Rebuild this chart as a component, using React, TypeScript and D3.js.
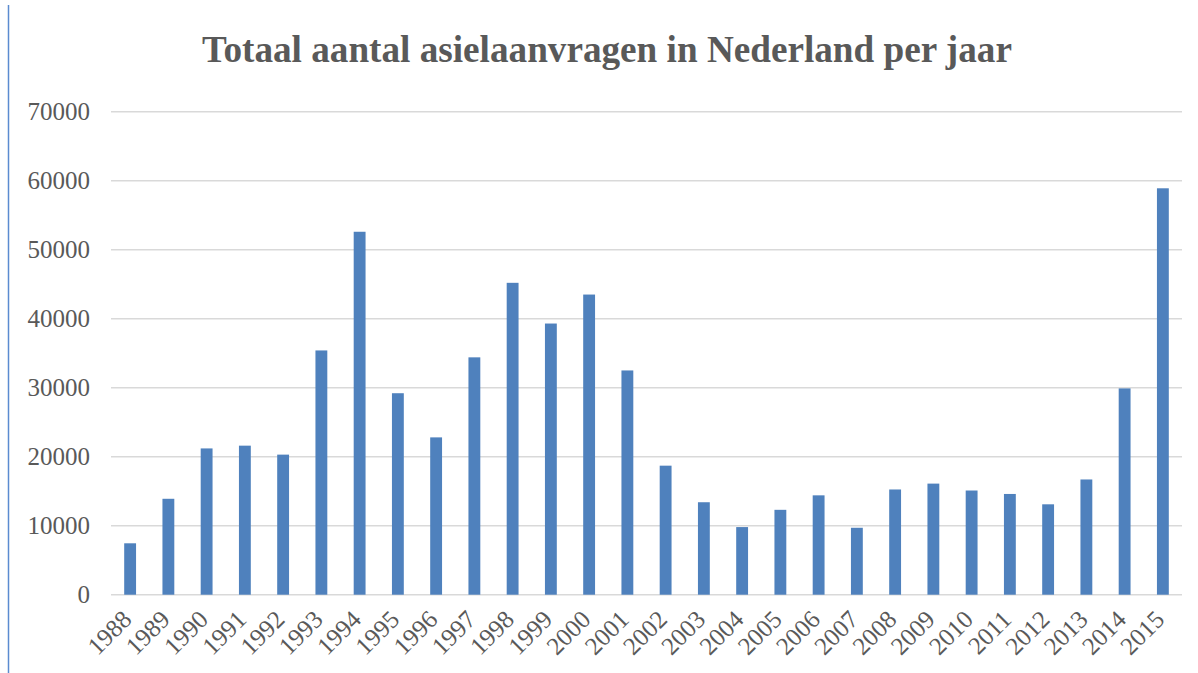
import React from "react";
import * as d3 from "d3";

const years = [
  "1988", "1989", "1990", "1991", "1992", "1993", "1994", "1995", "1996", "1997",
  "1998", "1999", "2000", "2001", "2002", "2003", "2004", "2005", "2006", "2007",
  "2008", "2009", "2010", "2011", "2012", "2013", "2014", "2015",
];
const requests = [
  7450, 13900, 21200, 21600, 20300, 35400, 52600, 29200, 22800, 34400,
  45200, 39300, 43500, 32500, 18700, 13400, 9800, 12300, 14400, 9700,
  15250, 16100, 15100, 14600, 13100, 16700, 29900, 58900,
];
const yTicks = [0, 10000, 20000, 30000, 40000, 50000, 60000, 70000];
const title = "Totaal aantal asielaanvragen in Nederland per jaar";

const W = 1198;
const H = 673;
const left = 111;
const right = 1182;
const top = 111.7;
const bottom = 594.7;

export default function App() {
  const x = d3.scaleBand<string>().domain(years).range([left, right]).paddingInner(0.69).paddingOuter(0.345);
  const y = d3.scaleLinear().domain([0, 70000]).range([bottom, top]);
  const font = "'Times New Roman', 'Liberation Serif', serif";
  return (
    <svg
      width={W}
      height={H}
      style={{ position: "absolute", left: 0, top: 0, background: "#fff" }}
    >
      <rect x={0} y={0} width={W} height={H} fill="#fff" />
      <line x1={8.5} x2={8.5} y1={5} y2={H} stroke="#5b8bd0" strokeWidth={1.5} />
      <text
        x={607}
        y={62}
        textAnchor="middle"
        fontFamily={font}
        fontWeight="bold"
        fontSize={37.2}
        fill="#595959"
      >
        {title}
      </text>
      {yTicks.map((t) => (
        <g key={t}>
          <line x1={left} x2={right} y1={y(t)} y2={y(t)} stroke="#d9d9d9" strokeWidth={1.5} />
          <text
            x={90}
            y={y(t)}
            dy="0.35em"
            textAnchor="end"
            fontFamily={font}
            fontSize={25}
            fill="#595959"
          >
            {t}
          </text>
        </g>
      ))}
      {years.map((yr, i) => (
        <rect
          key={yr}
          x={x(yr)}
          y={y(requests[i])}
          width={x.bandwidth()}
          height={bottom - y(requests[i])}
          fill="#4f81bd"
        />
      ))}
      {years.map((yr) => {
        const cx = (x(yr) as number) + x.bandwidth() / 2 + 3;
        return (
          <text
            key={yr}
            transform={`translate(${cx},621) rotate(-45)`}
            textAnchor="end"
            fontFamily={font}
            fontSize={25}
            fill="#595959"
          >
            {yr}
          </text>
        );
      })}
    </svg>
  );
}
